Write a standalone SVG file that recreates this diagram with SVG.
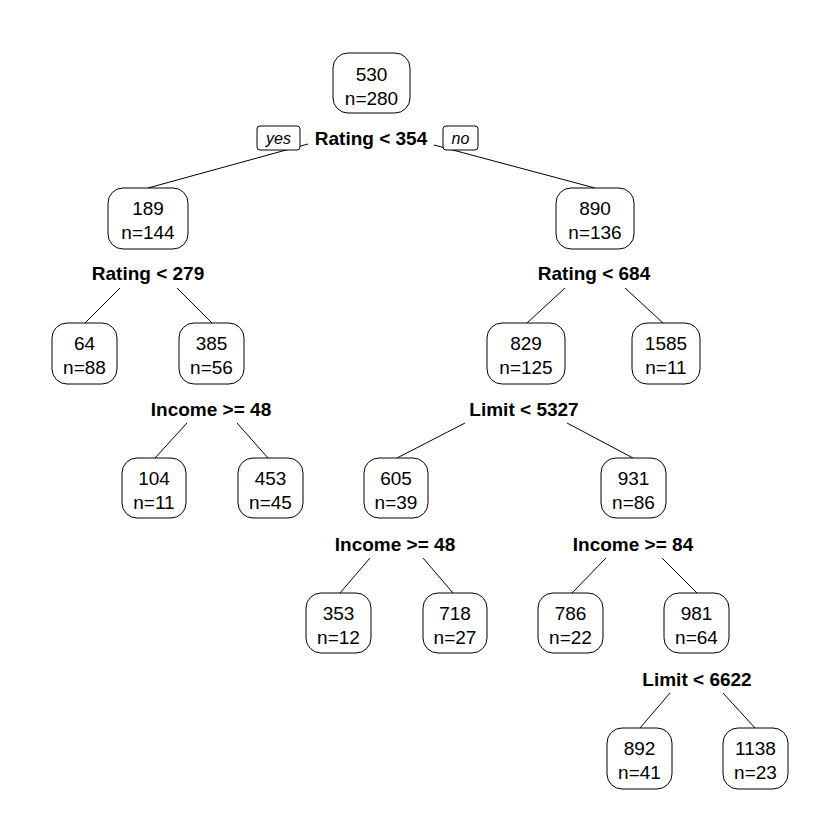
<svg xmlns="http://www.w3.org/2000/svg" width="840" height="840" viewBox="0 0 840 840">
<style>
.bg{fill:#fff}
.box{fill:#fff;stroke:#000;stroke-width:1}
.t{font-family:"Liberation Sans",Arial,sans-serif;font-size:19px;text-anchor:middle;fill:#000}
.s{font-family:"Liberation Sans",Arial,sans-serif;font-size:19px;font-weight:bold;text-anchor:middle;fill:#000}
.yn{font-family:"Liberation Sans",Arial,sans-serif;font-size:16px;font-style:italic;text-anchor:middle;fill:#000}
.ln{stroke:#000;stroke-width:1;fill:none}
</style>
<rect class="bg" width="840" height="840"/>
<g id="connectors">
<line class="ln" x1="308" y1="144" x2="148" y2="188"/>
<line class="ln" x1="434" y1="145" x2="595" y2="188"/>
<line class="ln" x1="120" y1="288" x2="85" y2="323"/>
<line class="ln" x1="177" y1="288" x2="212" y2="323"/>
<line class="ln" x1="565" y1="288" x2="527" y2="323"/>
<line class="ln" x1="625" y1="288" x2="663" y2="323"/>
<line class="ln" x1="187" y1="423" x2="155" y2="458"/>
<line class="ln" x1="237" y1="423" x2="268" y2="458"/>
<line class="ln" x1="465" y1="423" x2="397" y2="458"/>
<line class="ln" x1="567" y1="423" x2="633" y2="458"/>
<line class="ln" x1="370" y1="558" x2="340" y2="593"/>
<line class="ln" x1="423" y1="558" x2="453" y2="593"/>
<line class="ln" x1="606" y1="558" x2="572" y2="593"/>
<line class="ln" x1="662" y1="558" x2="697" y2="593"/>
<line class="ln" x1="670" y1="693" x2="640" y2="728"/>
<line class="ln" x1="723" y1="693" x2="755" y2="728"/>
</g>
<g id="yesno">
<rect class="box" x="257" y="126" width="43" height="24" rx="3"/>
<text class="yn" x="278.5" y="144">yes</text>
<rect class="box" x="443" y="126" width="35" height="24" rx="3"/>
<text class="yn" x="460.5" y="144">no</text>
</g>
<g id="splits">
<text class="s" x="371" y="145">Rating &lt; 354</text>
<text class="s" x="148" y="280">Rating &lt; 279</text>
<text class="s" x="594" y="280">Rating &lt; 684</text>
<text class="s" x="211" y="416">Income &gt;= 48</text>
<text class="s" x="524" y="416">Limit &lt; 5327</text>
<text class="s" x="395" y="551">Income &gt;= 48</text>
<text class="s" x="633" y="551">Income &gt;= 84</text>
<text class="s" x="697" y="686">Limit &lt; 6622</text>
</g>
<g id="n1"><rect class="box" x="333" y="53" width="77" height="60" rx="15"/><text class="t" x="371.5" y="81">530</text><text class="t" x="371.5" y="105">n=280</text></g>
<g id="n2"><rect class="box" x="108" y="188" width="80" height="61" rx="15"/><text class="t" x="148" y="215">189</text><text class="t" x="148" y="239">n=144</text></g>
<g id="n3"><rect class="box" x="556" y="188" width="78" height="61" rx="15"/><text class="t" x="595" y="215">890</text><text class="t" x="595" y="239">n=136</text></g>
<g id="n4"><rect class="box" x="52" y="323" width="65" height="61" rx="15"/><text class="t" x="84.5" y="350">64</text><text class="t" x="84.5" y="374">n=88</text></g>
<g id="n5"><rect class="box" x="179" y="323" width="65" height="61" rx="15"/><text class="t" x="211.5" y="350">385</text><text class="t" x="211.5" y="374">n=56</text></g>
<g id="n6"><rect class="box" x="487" y="323" width="78" height="61" rx="15"/><text class="t" x="526" y="350">829</text><text class="t" x="526" y="374">n=125</text></g>
<g id="n7"><rect class="box" x="632" y="323" width="68" height="61" rx="15"/><text class="t" x="666" y="350">1585</text><text class="t" x="666" y="374">n=11</text></g>
<g id="n8"><rect class="box" x="122" y="458" width="64" height="60" rx="15"/><text class="t" x="154" y="485">104</text><text class="t" x="154" y="509">n=11</text></g>
<g id="n9"><rect class="box" x="238" y="458" width="65" height="60" rx="15"/><text class="t" x="270.5" y="485">453</text><text class="t" x="270.5" y="509">n=45</text></g>
<g id="n10"><rect class="box" x="364" y="458" width="64" height="60" rx="15"/><text class="t" x="396" y="485">605</text><text class="t" x="396" y="509">n=39</text></g>
<g id="n11"><rect class="box" x="601" y="458" width="65" height="60" rx="15"/><text class="t" x="633.5" y="485">931</text><text class="t" x="633.5" y="509">n=86</text></g>
<g id="n12"><rect class="box" x="306" y="593" width="65" height="60" rx="15"/><text class="t" x="338.5" y="620">353</text><text class="t" x="338.5" y="644">n=12</text></g>
<g id="n13"><rect class="box" x="423" y="593" width="64" height="60" rx="15"/><text class="t" x="455" y="620">718</text><text class="t" x="455" y="644">n=27</text></g>
<g id="n14"><rect class="box" x="538" y="593" width="65" height="60" rx="15"/><text class="t" x="570.5" y="620">786</text><text class="t" x="570.5" y="644">n=22</text></g>
<g id="n15"><rect class="box" x="664" y="593" width="65" height="60" rx="15"/><text class="t" x="696.5" y="620">981</text><text class="t" x="696.5" y="644">n=64</text></g>
<g id="n16"><rect class="box" x="607" y="728" width="65" height="61" rx="15"/><text class="t" x="639.5" y="755">892</text><text class="t" x="639.5" y="779">n=41</text></g>
<g id="n17"><rect class="box" x="723" y="728" width="65" height="61" rx="15"/><text class="t" x="755.5" y="755">1138</text><text class="t" x="755.5" y="779">n=23</text></g>
</svg>
